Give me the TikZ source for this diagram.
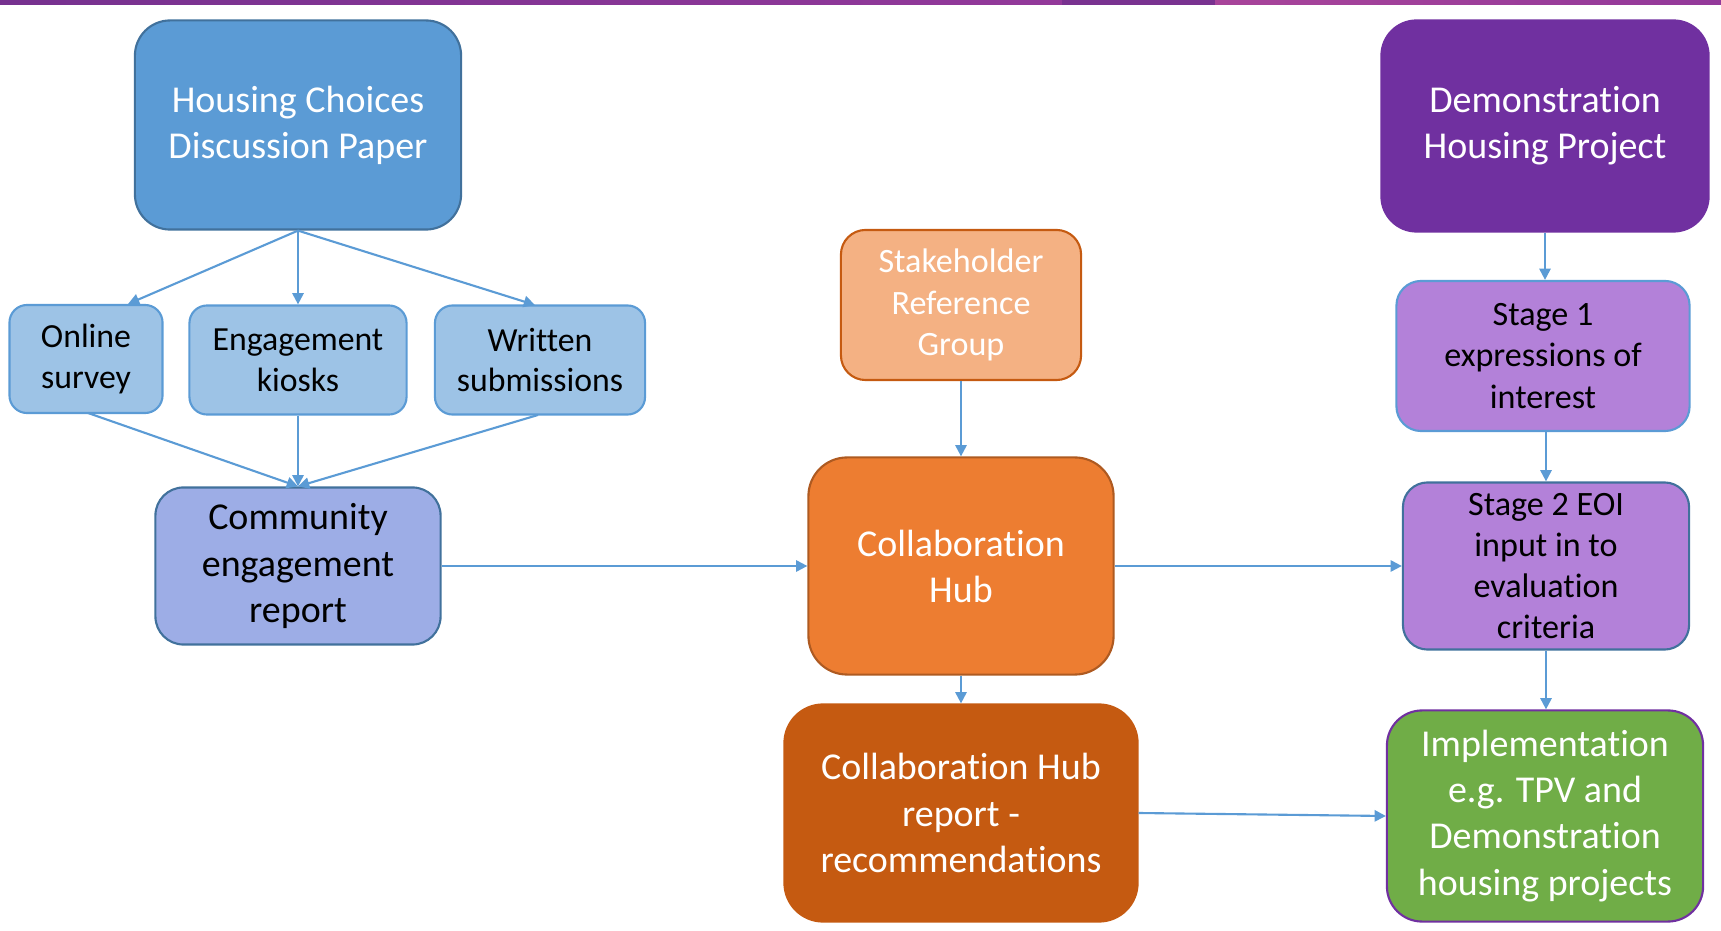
\documentclass[tikz,border=0pt]{standalone}
\usepackage{fontspec}
\setmainfont{Carlito}[Ligatures=NoCommon]
\usetikzlibrary{arrows.meta}

\definecolor{hcblue}{HTML}{5B9BD5}
\definecolor{hcdark}{HTML}{41719C}
\definecolor{hclight}{HTML}{9DC3E6}
\definecolor{cerblue}{HTML}{9DADE6}
\definecolor{srgorange}{HTML}{F4B183}
\definecolor{srgline}{HTML}{C55A11}
\definecolor{huborange}{HTML}{ED7D31}
\definecolor{hubline}{HTML}{AE5A21}
\definecolor{rptorange}{HTML}{C55A11}
\definecolor{demopurple}{HTML}{7030A0}
\definecolor{eoililac}{HTML}{B381D9}
\definecolor{impgreen}{HTML}{70AD47}
\definecolor{barleft}{HTML}{76318F}
\definecolor{barmid}{HTML}{93399A}
\definecolor{barright}{HTML}{A8449A}

\tikzset{
  bigbox/.style={rounded corners=10pt, align=center, inner sep=0pt, line width=0.6pt,
    text=white, font=\fontsize{10.8}{13.1}\selectfont},
  midbox/.style={rounded corners=7pt, align=center, inner sep=0pt, line width=0.6pt,
    font=\fontsize{9.7}{11.7}\selectfont},
  smallbox/.style={rounded corners=5pt, align=center, inner sep=0pt, line width=0.6pt,
    draw=hcblue, fill=hclight, font=\fontsize{9.6}{11.6}\selectfont},
  flow/.style={draw=hcblue, line width=0.6pt, -{Triangle[length=3.2pt,width=3.2pt]}}
}

\begin{document}
\begin{tikzpicture}[x=0.01cm,y=-0.01cm]
\useasboundingbox (0,0) rectangle (1721,931);

% Top bar
\shade[left color=barleft, right color=barmid] (0,0) rectangle (1062,5);
\fill[color=barleft!90!barmid] (1062,0) rectangle (1215,5);
\shade[left color=barright, right color=barmid] (1215,0) rectangle (1721,5);

% Left column
\node[bigbox, draw=hcdark, fill=hcblue, minimum width=3.26cm, minimum height=2.09cm]
  (paper) at (298,125) {Housing Choices\\Discussion Paper};
\node[smallbox, minimum width=1.53cm, minimum height=1.08cm]
  (survey) at (86,359) {Online\\survey};
\node[smallbox, minimum width=2.17cm, minimum height=1.09cm]
  (kiosks) at (298,360) {Engagement\\kiosks};
\node[smallbox, minimum width=2.10cm, minimum height=1.09cm]
  (written) at (540,360) {Written\\submissions};
\node[bigbox, rounded corners=8pt, draw=hcdark, fill=cerblue, text=black, minimum width=2.85cm, minimum height=1.57cm]
  (community) at (298,566) {Community\\engagement\\report};

% Middle column
\node[midbox, draw=srgline, fill=srgorange, text=white, minimum width=2.40cm, minimum height=1.50cm]
  (stakeholder) at (961,305) {Stakeholder\\Reference\\Group};
\node[bigbox, rounded corners=11pt, draw=hubline, fill=huborange, minimum width=3.05cm, minimum height=2.17cm]
  (hub) at (961,566) {Collaboration\\Hub};
\node[bigbox, rounded corners=11pt, draw=rptorange, fill=rptorange, minimum width=3.53cm, minimum height=2.17cm]
  (hubreport) at (961,813) {Collaboration Hub\\report -\\recommendations};

% Right column
\node[bigbox, draw=demopurple, fill=demopurple, minimum width=3.27cm, minimum height=2.11cm]
  (demo) at (1545,126) {Demonstration\\Housing Project};
\node[midbox, draw=hcblue, fill=eoililac, text=black, minimum width=2.93cm, minimum height=1.50cm]
  (stageone) at (1543,356) {Stage 1\\expressions of\\interest};
\node[midbox, draw=hcdark, fill=eoililac, text=black, minimum width=2.86cm, minimum height=1.67cm]
  (stagetwo) at (1546,566) {Stage 2 EOI\\input in to\\evaluation\\criteria};
\node[bigbox, draw=demopurple, fill=impgreen, minimum width=3.16cm, minimum height=2.11cm]
  (impl) at (1545,816) {Implementation\\e.g. TPV and\\Demonstration\\housing projects};

% Arrows out of the paper
\draw[flow] (paper.south) -- (128,304);
\draw[flow] (paper.south) -- (kiosks.north);
\draw[flow] (paper.south) -- (535,305);
% Arrows into the report
\draw[flow] (88,413) -- (community.north);
\draw[flow] (kiosks.south) -- (community.north);
\draw[flow] (538,415) -- (community.north);

% Arrows across
\draw[flow] (community.east) -- (hub.west);
\draw[flow] (stakeholder.south) -- (hub.north);
\draw[flow] (hub.south) -- (hubreport.north);
\draw[flow] (hub.east) -- (stagetwo.west);
\draw[flow] (hubreport.east) -- (impl.west);

% Right column arrows
\draw[flow] (demo.south) -- (demo.south |- stageone.north);
\draw[flow] (stagetwo.north |- stageone.south) -- (stagetwo.north);
\draw[flow] (stagetwo.south) -- (stagetwo.south |- impl.north);

\end{tikzpicture}
\end{document}
